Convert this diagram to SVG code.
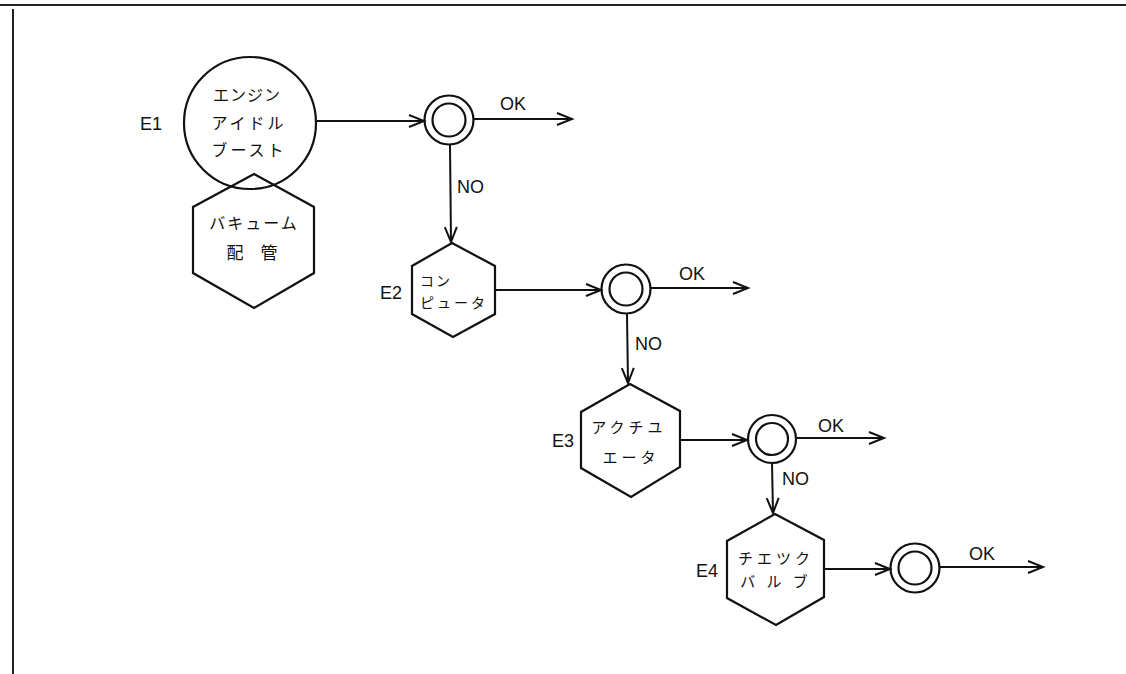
<svg xmlns="http://www.w3.org/2000/svg" width="1126" height="674" viewBox="0 0 1126 674">
<style>
.sh{fill:none;stroke:#111;stroke-width:2.2}
.dc{fill:none;stroke:#111;stroke-width:2.2}
.ln{fill:none;stroke:#111;stroke-width:2}
.jp{font-family:"Noto Sans CJK JP","Noto Sans",sans-serif;fill:#111;text-anchor:middle}
.lb{font-family:"Liberation Sans",Arial,sans-serif;font-size:18px;fill:#111}
</style>
<defs>
<marker id="ah" markerUnits="userSpaceOnUse" markerWidth="20" markerHeight="16" viewBox="-16 -8 20 16" refX="0" refY="0" orient="auto">
<path d="M-15,-6 L0,0 L-15,6" fill="none" stroke="#111" stroke-width="2"/>
</marker>
</defs>
<g id="frame">
<line x1="0" y1="5" x2="1126" y2="5" stroke="#222" stroke-width="2"/>
<line x1="13" y1="9" x2="13" y2="674" stroke="#222" stroke-width="2"/>
</g>
<g id="connectors">
<line class="ln" x1="317" y1="121" x2="424" y2="121" marker-end="url(#ah)"/>
<line class="ln" x1="474" y1="119" x2="572" y2="119" marker-end="url(#ah)"/>
<line class="ln" x1="450" y1="145" x2="451" y2="242" marker-end="url(#ah)"/>
<line class="ln" x1="496" y1="290" x2="601" y2="290" marker-end="url(#ah)"/>
<line class="ln" x1="651" y1="288" x2="748" y2="288" marker-end="url(#ah)"/>
<line class="ln" x1="627" y1="314" x2="628" y2="383" marker-end="url(#ah)"/>
<line class="ln" x1="681" y1="440" x2="747" y2="440" marker-end="url(#ah)"/>
<line class="ln" x1="796" y1="438" x2="884" y2="438" marker-end="url(#ah)"/>
<line class="ln" x1="772" y1="463" x2="773" y2="513" marker-end="url(#ah)"/>
<line class="ln" x1="825" y1="569" x2="890" y2="569" marker-end="url(#ah)"/>
<line class="ln" x1="940" y1="567" x2="1043" y2="567" marker-end="url(#ah)"/>
<text class="lb" x="500" y="110">OK</text>
<text class="lb" x="457" y="193">NO</text>
<text class="lb" x="679" y="280">OK</text>
<text class="lb" x="635" y="350">NO</text>
<text class="lb" x="818" y="432">OK</text>
<text class="lb" x="782" y="485">NO</text>
<text class="lb" x="969" y="560">OK</text>
</g>
<g id="E1">
<circle class="sh" cx="250" cy="123" r="66"/>
<polygon class="sh" points="254,174 314,207 314,273 254,308 193,273 193,207"/>
<text class="lb" x="140" y="130">E1</text>
<text class="jp" x="247" y="101" font-size="16" letter-spacing="1">エンジン</text>
<text class="jp" x="249" y="129" font-size="16" letter-spacing="3">アイドル</text>
<text class="jp" x="249" y="156" font-size="16" letter-spacing="3">ブースト</text>
<text class="jp" x="254" y="229" font-size="16" letter-spacing="2">バキューム</text>
<text class="jp" x="252" y="259" font-size="17">配　管</text>
</g>
<g id="D1">
<circle class="dc" cx="449" cy="120" r="24.5"/>
<circle class="dc" cx="449" cy="120" r="16.5"/>
</g>
<g id="E2">
<polygon class="sh" points="452,243 495,266 495,314 453,337 412,314 412,266"/>
<text class="lb" x="380" y="299">E2</text>
<text class="jp" x="420" y="286" font-size="14" style="text-anchor:start" letter-spacing="2">コン</text>
<text class="jp" x="420" y="308" font-size="14" style="text-anchor:start" letter-spacing="3">ピュータ</text>
</g>
<g id="D2">
<circle class="dc" cx="626" cy="289" r="24.5"/>
<circle class="dc" cx="626" cy="289" r="16.5"/>
</g>
<g id="E3">
<polygon class="sh" points="630,384 680,411 680,467 631,497 581,468 581,412"/>
<text class="lb" x="552" y="447">E3</text>
<text class="jp" x="629" y="433" font-size="15" letter-spacing="4">アクチユ</text>
<text class="jp" x="631" y="463" font-size="15" letter-spacing="4">エータ</text>
</g>
<g id="D3">
<circle class="dc" cx="772" cy="439" r="24"/>
<circle class="dc" cx="772" cy="439" r="16"/>
</g>
<g id="E4">
<polygon class="sh" points="775,514 824,540 824,597 776,625 727,598 727,541"/>
<text class="lb" x="696" y="577">E4</text>
<text class="jp" x="776" y="564" font-size="15" letter-spacing="4">チエツク</text>
<text class="jp" x="776" y="587" font-size="15" letter-spacing="4">バ ル ブ</text>
</g>
<g id="D4">
<circle class="dc" cx="915" cy="568" r="24.5"/>
<circle class="dc" cx="915" cy="568" r="16.5"/>
</g>
</svg>
